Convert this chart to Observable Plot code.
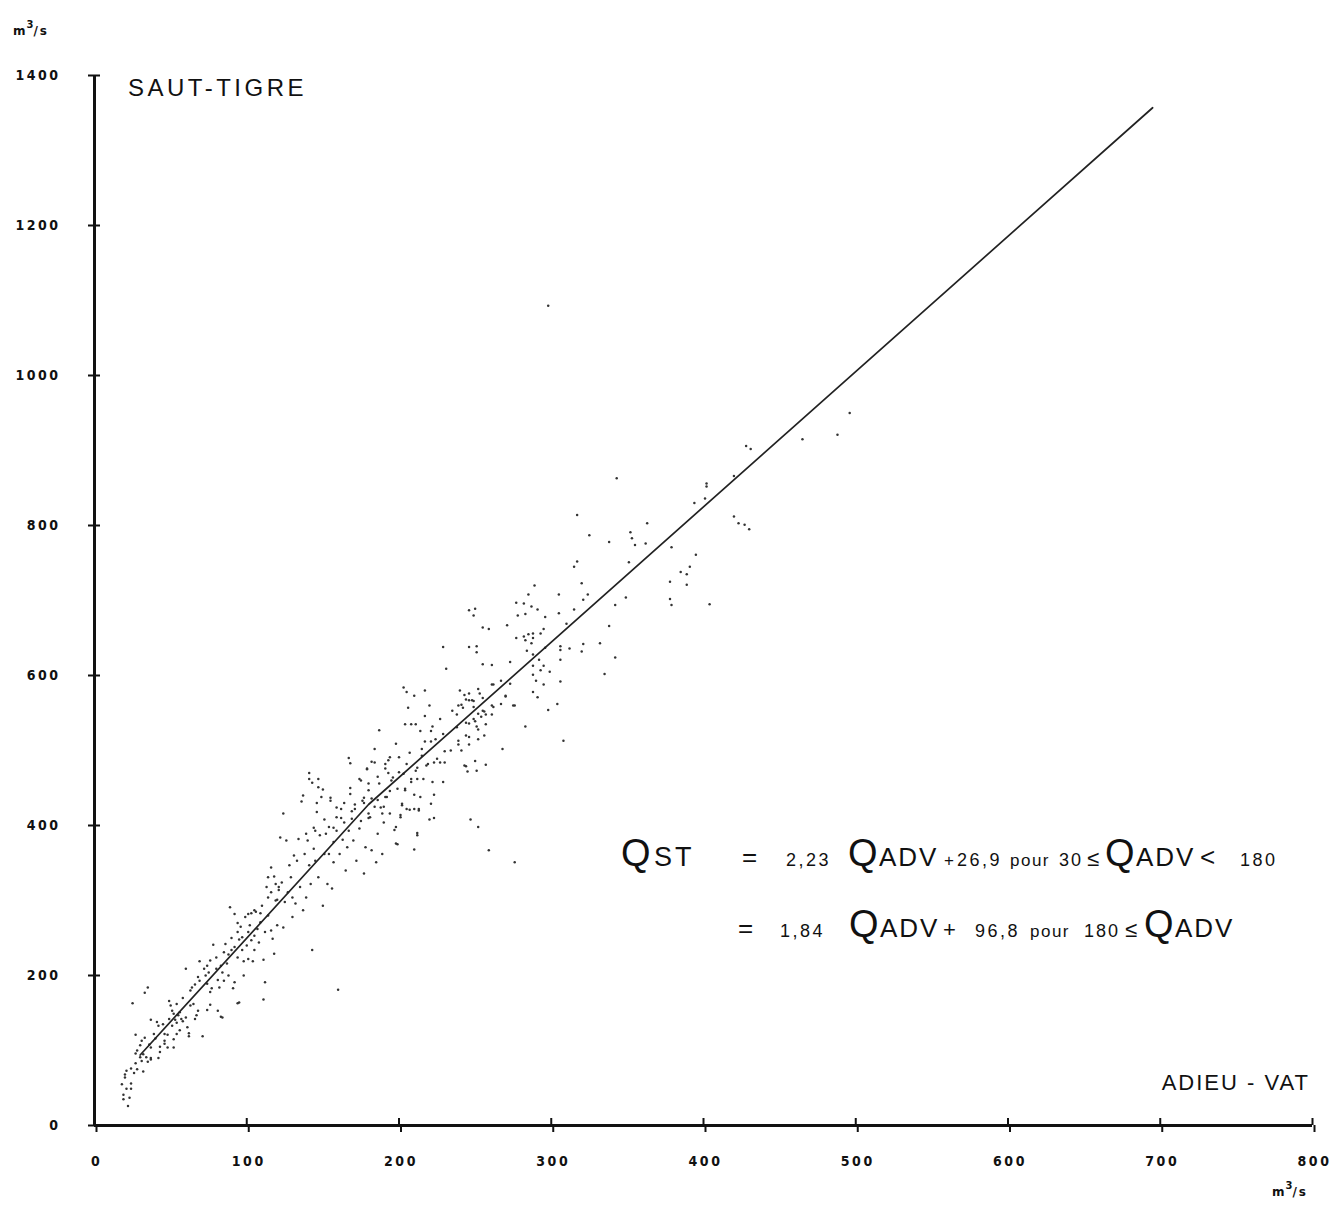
<!DOCTYPE html>
<html>
<head>
<meta charset="utf-8">
<script src="https://cdn.jsdelivr.net/npm/d3@7"></script>
<script src="https://cdn.jsdelivr.net/npm/@observablehq/plot@0.6"></script>
<style>
  body { margin: 0; background: #fff; }
  #chart svg { display: block; }
  [aria-label="x-axis tick label"] text, [aria-label="y-axis tick label"] text { letter-spacing: 2.5px; }
  text.ann { white-space: pre; }
</style>
</head>
<body>
<div id="chart"></div>
<script>
// Tick values
const xTicks = [0, 100, 200, 300, 400, 500, 600, 700, 800];
const yTicks = [0, 200, 400, 600, 800, 1000, 1200, 1400];

// Fitted line (ADIEU-VAT discharge, SAUT-TIGRE discharge)
const lineAdv = [30, 180, 695];
const lineSt = [94, 428, 1357];

// Daily discharges: [Q ADIEU-VAT, Q SAUT-TIGRE] in m3/s
const lowFlowPoints = [
[25,163],[18,55],[19,41],[19,35],[22,26],[21,49],[24,49],[23,37],[24,56],[20,64],[21,73],[20,68],[24,76],[26,70],[27,83],[28,75],[32,72],[27,96],[28,100],[30,91],[31,86],[30,107],[31,113],[27,121],[33,117],[32,95],[34,91],[37,141],[37,88],[37,90],[35,85],[39,122],[40,116],[41,138],[42,133],[43,105],[43,98],[45,135],[46,122],[46,113],[46,109],[48,104],[49,142],[48,121],[51,153],[52,149],[53,141],[51,133],[54,137],[55,147],[56,151],[57,142],[58,139],[60,144],[61,131],[62,119],[52,104],[52,115],[56,127],[54,122],[62,123],[63,160],[65,162],[68,153],[67,147],[66,142],[71,119],[74,154],[76,161],[81,153],[83,145],[94,163],[42,90],[37,104],[36,108]
];
const midLowPoints = [
[33,177],[35,184],[49,166],[50,160],[54,162],[58,170],[60,209],[63,180],[64,184],[66,188],[69,219],[68,198],[69,193],[72,209],[73,200],[74,213],[74,189],[76,220],[75,204],[76,178],[77,183],[78,241],[80,209],[80,224],[81,194],[82,184],[83,213],[84,144],[84,204],[85,231],[86,242],[85,193],[87,216],[88,228],[88,200],[89,291],[90,234],[90,250],[91,183],[92,238],[92,282],[92,191],[94,270],[94,258],[94,224],[95,248],[95,164],[96,265],[97,234],[97,251],[98,200],[98,219],[99,278],[100,240],[101,258],[101,222],[102,267],[103,247],[103,283],[104,219],[105,234],[105,253],[106,285],[107,262],[108,244],[109,271],[110,293],[111,168],[111,221],[112,191],[112,258],[113,318],[114,280],[116,311],[117,249],[118,229],[119,300],[120,267],[121,318]
];
const midPoints = [
[101,282],[105,287],[109,283],[114,331],[114,304],[116,344],[116,260],[118,332],[119,322],[120,301],[121,314],[122,384],[123,324],[124,416],[124,264],[125,298],[126,380],[127,311],[128,347],[129,331],[130,278],[130,304],[131,360],[132,296],[133,353],[134,382],[135,318],[136,432],[137,287],[138,362],[139,304],[140,380],[141,347],[141,462],[142,322],[143,234],[144,369],[145,353],[145,393],[146,418],[147,451],[147,331],[148,387],[149,438],[150,293],[151,362],[152,389],[153,322],[154,362],[154,398],[155,433],[156,316],[157,378],[157,351],[159,411],[159,393],[160,181],[161,362],[162,422],[163,381],[164,404],[165,340],[166,371],[167,393],[168,483],[168,442],[169,409],[170,380],[171,422],[172,353],[174,396],[175,460],[176,433],[177,336],[178,371],[179,476],[180,447],[181,411],[182,367],[182,436],[184,484],[185,351],[186,389],[187,456],[188,424],[189,362],[190,404],[191,476],[192,438],[193,487],[194,416],[196,464],[197,394],[198,376],[199,449],[200,491],[201,411],[202,429],[203,469],[204,447],[205,482],[207,421],[208,458],[210,368],[211,473],[212,387],[213,420],[214,438],[215,493],[216,462],[218,480],[220,408]
];
const upperMidPoints = [
[289,720],[285,708],[287,692],[291,688],[296,678],[278,680],[277,650],[283,647],[284,633],[273,618],[288,613],[293,607],[295,613],[288,601],[290,593],[295,588],[288,578],[291,571],[298,554],[283,532],[268,502],[275,560],[270,573],[261,560],[262,588],[267,593],[273,589],[255,615],[261,614],[251,639],[251,631],[246,638],[229,638],[231,609],[240,580],[246,576],[248,567],[244,568],[239,560],[242,557],[235,553],[238,548],[249,542],[246,536],[251,532],[255,553],[238,531],[244,520],[246,508],[251,473],[244,479],[239,513],[234,500],[230,499],[229,522],[227,542],[224,515],[222,532],[220,560],[217,546],[217,580],[217,512],[215,502],[210,573],[205,578],[203,584],[206,557],[208,535],[204,535],[211,535],[214,526],[221,526],[221,512],[225,489],[227,484],[230,484],[223,484],[219,482],[222,458],[229,458],[223,441],[221,429],[223,410],[212,390],[212,462],[210,441],[212,477],[207,497],[208,462],[204,449],[202,427],[201,414],[205,422],[210,422],[213,422],[198,509],[194,491],[191,482],[193,470],[195,460],[200,471],[187,527],[184,502],[182,485],[179,475],[180,456],[186,465],[186,434],[191,438],[194,446],[190,425],[189,416],[198,398],[199,375],[184,425],[180,416],[177,437],[174,462],[177,430],[180,410],[175,406],[171,428],[168,450],[167,490],[169,419],[164,430],[162,410],[159,424],[157,397],[155,437],[151,408],[150,448],[146,430],[144,397],[141,470],[143,457],[147,462],[137,440],[139,389],[247,408],[252,398],[259,367],[276,351]
];
const highPoints = [
[343,863],[317,814],[325,787],[338,778],[363,803],[352,791],[353,783],[355,774],[362,776],[351,751],[315,745],[317,752],[320,723],[324,708],[321,701],[305,708],[305,683],[315,688],[310,669],[338,666],[349,704],[342,694],[332,643],[321,642],[320,632],[306,639],[306,634],[306,621],[312,636],[306,592],[304,562],[308,513],[342,624],[335,602],[282,696],[277,697],[283,682],[271,667],[259,662],[255,664],[246,687],[250,689],[249,680],[285,655],[288,656],[293,656],[295,662],[288,650],[282,652],[287,643],[296,637],[292,621],[288,628],[299,605],[261,588],[270,572],[276,560],[267,562],[262,558],[256,552],[261,548],[252,582],[253,576],[243,574],[249,566],[246,567],[241,561],[249,558],[255,570],[257,548],[252,549],[254,545],[250,539],[244,537],[257,535],[256,520],[246,518],[252,528],[252,515],[239,508],[241,500],[250,486],[243,480],[257,481],[245,472],[423,803],[420,812],[427,801],[430,795],[402,852],[402,856],[401,836],[394,830],[395,761],[391,745],[385,738],[389,735],[389,721],[378,725],[378,702],[379,694],[404,695],[379,771],[420,866],[428,906],[496,950],[488,921],[465,915],[431,902],[298,1093]
];

const scatter = [...lowFlowPoints, ...midLowPoints, ...midPoints, ...upperMidPoints, ...highPoints]
  .map(([adv, st]) => ({adv, st}));
const lineData = lineAdv.map((a, i) => ({adv: a, st: lineSt[i]}));

const W = 1339, H = 1205;

const svg = Plot.plot({
  width: W, height: H,
  marginLeft: 94, marginRight: 27, marginTop: 75, marginBottom: 80,
  style: {background: "#fff", color: "#111", fontFamily: "'DejaVu Sans Condensed', 'DejaVu Sans'", fontSize: "14px", fontWeight: "bold"},
  x: {domain: [0, 800]},
  y: {domain: [0, 1400]},
  marks: [
    Plot.axisX({ticks: xTicks, tickSize: 7, tickPadding: 24, strokeWidth: 2, label: null, tickFormat: d => String(d), dx: 2}),
    Plot.axisX({ticks: xTicks, tickSize: -7, tickFormat: () => "", strokeWidth: 2, label: null}),
    Plot.axisY({ticks: yTicks, tickSize: 6, tickPadding: 28, strokeWidth: 2, label: null, tickFormat: d => String(d)}),
    Plot.axisY({ticks: yTicks, tickSize: -6, tickFormat: () => "", strokeWidth: 2, label: null}),
    Plot.ruleX([0], {strokeWidth: 3, stroke: "#111"}),
    Plot.ruleY([0], {strokeWidth: 3, stroke: "#111"}),
    Plot.dot(scatter, {x: "adv", y: "st", r: 1.25, fill: "#333", stroke: null}),
    Plot.line(lineData, {x: "adv", y: "st", stroke: "#222", strokeWidth: 1.7})
  ]
});

const s = d3.select(svg);
function ann(x, y, parts, anchor = "start") {
  const t = s.append("text").attr("class", "ann").attr("x", x).attr("y", y)
    .attr("text-anchor", anchor).attr("fill", "#111")
    .style("font-family", "'Liberation Sans', Arial, sans-serif").style("font-weight", "normal");
  for (const p of parts) {
    const ts = t.append("tspan").text(p.t).style("font-size", p.size + "px");
    if (p.x != null) ts.attr("x", p.x);
    if (p.ls != null) ts.style("letter-spacing", p.ls + "px");
    if (p.dy) ts.attr("dy", p.dy);
    if (p.weight) ts.style("font-weight", p.weight);
  }
  return t;
}

// unit labels
const unit = [{t: "m", size: 12, weight: "bold", ls: 1}, {t: "3", size: 10, dy: -7, weight: "bold"}, {t: "/s", size: 12, dy: 7, weight: "bold", ls: 2}];
ann(13, 35, unit).style("font-family", "'DejaVu Sans'");
ann(1272, 1196, unit).style("font-family", "'DejaVu Sans'");

// station names
ann(128, 96, [{t: "SAUT-TIGRE", size: 24, ls: 3.5}]);
ann(1310, 1090, [{t: "ADIEU - VAT", size: 22, ls: 2}], "end");

// regression equations
ann(621, 866, [
  {t: "Q", x: 621, size: 38}, {t: "ST", x: 654, size: 27, ls: 3},
  {t: "=", x: 742, size: 26},
  {t: "2,23", x: 786, size: 18, ls: 2.5},
  {t: "Q", x: 848, size: 38}, {t: "ADV", x: 879, size: 26, ls: 2},
  {t: "+", x: 944, size: 17}, {t: "26,9", x: 957, size: 18, ls: 2.5},
  {t: "pour", x: 1010, size: 17, ls: 1.5}, {t: "30", x: 1059, size: 18, ls: 2},
  {t: "≤", x: 1087, size: 22}, {t: "Q", x: 1105, size: 38}, {t: "ADV", x: 1136, size: 26, ls: 2},
  {t: "<", x: 1200, size: 26}, {t: "180", x: 1240, size: 18, ls: 2.5}
]);
ann(738, 937, [
  {t: "=", x: 738, size: 26},
  {t: "1,84", x: 780, size: 18, ls: 2.5},
  {t: "Q", x: 849, size: 38}, {t: "ADV", x: 880, size: 26, ls: 2}, {t: "+", x: 943, size: 22},
  {t: "96,8", x: 975, size: 18, ls: 2.5},
  {t: "pour", x: 1030, size: 17, ls: 1.5}, {t: "180", x: 1084, size: 18, ls: 2},
  {t: "≤", x: 1125, size: 22}, {t: "Q", x: 1144, size: 38}, {t: "ADV", x: 1175, size: 26, ls: 2}
]);

document.getElementById("chart").appendChild(svg);
</script>
</body>
</html>
